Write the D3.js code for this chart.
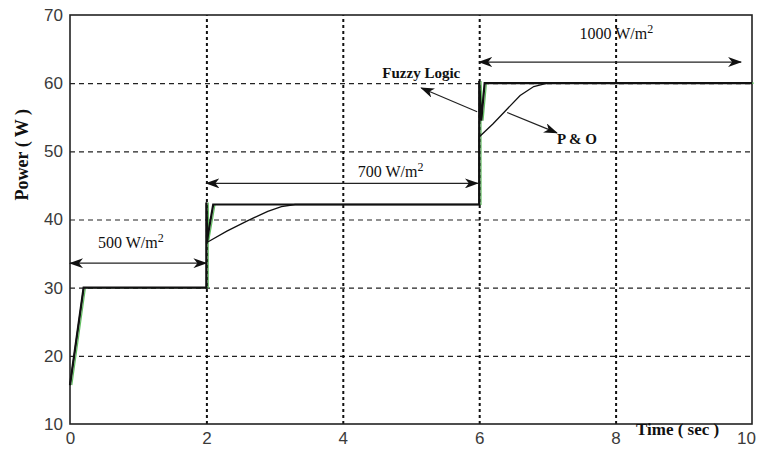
<!DOCTYPE html>
<html>
<head>
<meta charset="utf-8">
<script src="https://cdn.jsdelivr.net/npm/d3@7"></script>
<style>
  body { margin: 0; background: #fff; }
  .tick text { font-family: "Liberation Sans", Arial, sans-serif; fill: #3a3a3a; }
  .lbl { font-family: "Liberation Serif", "Times New Roman", serif; fill: #111; }
</style>
</head>
<body>
<div id="chart"></div>
<script>
// tick values
var xTicks = [0, 2, 4, 6, 8, 10];
var yTicks = [10, 20, 30, 40, 50, 60, 70];

// Fuzzy logic response (fast)
var fuzzyT = [0, 0.2, 2.0, 2.0, 2.01, 2.1, 6.0, 6.0, 6.03, 6.08, 10];
var fuzzyP = [15.7, 30, 30, 42.5, 37, 42.2, 42.2, 60.3, 54.5, 60, 60];

// P & O response (slow)
var poT = [0, 0.2, 2.0, 2.0, 2.02, 2.3, 2.6, 2.9, 3.1, 3.3, 6.0, 6.0, 6.01, 6.2, 6.4, 6.6, 6.8, 7.0, 10];
var poP = [15.7, 30, 30, 42.5, 36.7, 38.3, 39.8, 41.2, 41.9, 42.2, 42.2, 52.2, 52.2, 54.0, 56.1, 58.2, 59.5, 60, 60];

// irradiance arrows: [x1, x2, y] and labels
var irrArrows = [[0, 2, 33.6], [2.0, 5.98, 45.3], [6.0, 9.84, 63.1]];
var irrLabels = ["500", "700", "1000"];
var irrLabelPos = [[0.41, 35.8], [4.22, 46.2], [7.47, 66.5]];

// pointer arrows for the two methods: [x1, y1, x2, y2]
var methodArrows = [[5.97, 55.8, 5.15, 59.3], [6.41, 55.7, 7.14, 52.7]];
var methodLabels = ["Fuzzy Logic", "P & O"];
var methodLabelPos = [[4.58, 60.8], [7.14, 51.1]];

var margin = {top: 15, right: 8, bottom: 33, left: 70};
var W = 760, H = 457;
var width = W - margin.left - margin.right;
var height = H - margin.top - margin.bottom;

var svg = d3.select("#chart").append("svg")
  .attr("width", W).attr("height", H);

var defs = svg.append("defs");
defs.append("marker")
  .attr("id", "head")
  .attr("viewBox", "0 0 14 10")
  .attr("refX", 13).attr("refY", 5)
  .attr("markerWidth", 14).attr("markerHeight", 10)
  .attr("markerUnits", "userSpaceOnUse")
  .attr("orient", "auto-start-reverse")
  .append("path")
  .attr("d", "M0,0 L14,5 L0,10 L4,5 Z")
  .attr("fill", "#111");

var g = svg.append("g")
  .attr("transform", "translate(" + margin.left + "," + margin.top + ")");

var x = d3.scaleLinear().domain([0, 10]).range([0, width]);
var y = d3.scaleLinear().domain([10, 70]).range([height, 0]);

// horizontal dashed grid
g.append("g")
  .call(d3.axisLeft(y).tickValues([20, 30, 40, 50, 60]).tickSize(-width).tickFormat(""))
  .call(s => s.select(".domain").remove())
  .selectAll("line")
  .attr("stroke", "#222").attr("stroke-width", 1.2).attr("stroke-dasharray", "5,4");

// vertical dotted grid
g.append("g")
  .attr("transform", "translate(0," + height + ")")
  .call(d3.axisBottom(x).tickValues([2, 4, 6, 8]).tickSize(-height).tickFormat(""))
  .call(s => s.select(".domain").remove())
  .selectAll("line")
  .attr("stroke", "#111").attr("stroke-width", 2).attr("stroke-dasharray", "3,3");

// frame
g.append("rect")
  .attr("width", width).attr("height", height)
  .attr("fill", "none").attr("stroke", "#222").attr("stroke-width", 1.6);

// tick labels
g.append("g")
  .call(d3.axisLeft(y).tickValues(yTicks).tickSize(0).tickPadding(7))
  .call(s => s.select(".domain").remove())
  .selectAll("text").style("font-size", "17px");

g.append("g")
  .attr("transform", "translate(0," + height + ")")
  .call(d3.axisBottom(x).tickValues(xTicks).tickSize(0).tickPadding(8))
  .call(s => s.select(".domain").remove())
  .selectAll("text").style("font-size", "17px")
  .attr("dx", d => d === 10 ? -6 : 0);

// lines
var line = d3.line().x(d => x(d[0])).y(d => y(d[1]));
var poData = poT.map((t, i) => [t, poP[i]]);
var fuzzyData = fuzzyT.map((t, i) => [t, fuzzyP[i]]);

// green edge of the fuzzy trace, mostly hidden under the black
g.append("path").attr("d", line(fuzzyData))
  .attr("transform", "translate(1.8,0)")
  .attr("fill", "none").attr("stroke", "#62c062").attr("stroke-width", 1.2);
g.append("path").attr("d", line(poData))
  .attr("fill", "none").attr("stroke", "#111").attr("stroke-width", 1.3);
g.append("path").attr("d", line(fuzzyData))
  .attr("fill", "none").attr("stroke", "#111").attr("stroke-width", 2.2);

// irradiance double arrows
g.selectAll(".irr")
  .data(irrArrows)
  .enter().append("line")
  .attr("x1", d => x(d[0])).attr("x2", d => x(d[1]))
  .attr("y1", d => y(d[2])).attr("y2", d => y(d[2]))
  .attr("stroke", "#222").attr("stroke-width", 1.3)
  .attr("marker-start", "url(#head)").attr("marker-end", "url(#head)");

var irrText = g.selectAll(".irrText")
  .data(irrLabels)
  .enter().append("text")
  .attr("class", "lbl")
  .attr("x", (d, i) => x(irrLabelPos[i][0]))
  .attr("y", (d, i) => y(irrLabelPos[i][1]))
  .style("font-size", "16px");
irrText.append("tspan").text(d => d + " W/m");
irrText.append("tspan").attr("dy", -6).style("font-size", "12px").text("2");

// method pointers
g.selectAll(".ptr")
  .data(methodArrows)
  .enter().append("line")
  .attr("x1", d => x(d[0])).attr("y1", d => y(d[1]))
  .attr("x2", d => x(d[2])).attr("y2", d => y(d[3]))
  .attr("stroke", "#222").attr("stroke-width", 1.2)
  .attr("marker-end", "url(#head)");

g.selectAll(".mtxt")
  .data(methodLabels)
  .enter().append("text")
  .attr("class", "lbl")
  .attr("x", (d, i) => x(methodLabelPos[i][0]))
  .attr("y", (d, i) => y(methodLabelPos[i][1]))
  .style("font-size", "15px").style("font-weight", "bold")
  .text(d => d);

// axis titles
svg.append("text")
  .attr("class", "lbl")
  .attr("transform", "translate(28," + (margin.top + y(49.5)) + ") rotate(-90)")
  .attr("text-anchor", "middle")
  .style("font-size", "18px").style("font-weight", "bold")
  .text("Power ( W )");

svg.append("text")
  .attr("class", "lbl")
  .attr("x", 636).attr("y", 435)
  .style("font-size", "17px").style("font-weight", "bold")
  .text("Time ( sec )");
</script>
</body>
</html>
